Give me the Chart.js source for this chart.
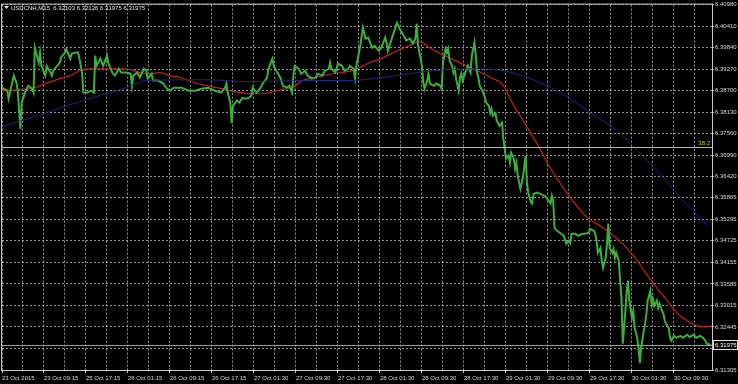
<!DOCTYPE html>
<html>
<head>
<meta charset="utf-8">
<script src="https://cdn.jsdelivr.net/npm/chart.js@4.4.1/dist/chart.umd.min.js"></script>
<style>
  html, body { margin: 0; padding: 0; background: #000; }
  #wrap { width: 738px; height: 384px; position: relative; }
</style>
</head>
<body>
<div id="wrap"><canvas id="priceChart"></canvas></div>
<script>
// chart header + axis labels
const symbolTitle = 'USDCNH,M15  6.32103 6.32126 6.31975 6.31975';
const timeLabels = ['23 Oct 2015', '23 Oct 09:15', '25 Oct 17:15', '26 Oct 01:15', '26 Oct 09:15',
    '26 Oct 17:15', '27 Oct 01:30', '27 Oct 09:30', '27 Oct 17:30', '28 Oct 01:30', '28 Oct 09:30',
    '28 Oct 17:30', '29 Oct 01:30', '29 Oct 09:30', '29 Oct 17:30', '30 Oct 01:30', '30 Oct 09:30'];
const priceTicks = [6.40980, 6.40410, 6.39840, 6.39270, 6.38700, 6.38130, 6.37560, 6.36990, 6.36420,
    6.35865, 6.35295, 6.34725, 6.34155, 6.33585, 6.33015, 6.32445, 6.31875, 6.31305];
const fibLevel = 6.37215;
const fibLabel = '38.2';
const lastPrice = 6.31975;

// M15 bars (bar number from left edge) and price
const barIdx = [0, 4, 5, 9, 11, 12, 14, 15, 18, 20, 23, 24, 25, 26, 28, 29, 30, 31, 33, 34, 37, 38, 39, 42, 44, 45, 48, 49,
    52, 53, 56, 58, 59, 61, 62, 65, 68, 70, 71, 72, 75, 77, 80, 81, 84, 86, 89, 91, 95, 98, 99, 100, 103, 105, 108, 110,
    111, 114, 115, 119, 123, 125, 128, 131, 137, 142, 147, 152, 157, 162, 167, 170, 171, 172, 174, 175, 176, 179, 181,
    183, 185, 188, 190, 191, 194, 197, 199, 202, 203, 206, 207, 209, 212, 214, 217, 219, 221, 222, 223, 226, 228, 231,
    233, 236, 239, 241, 244, 246, 249, 250, 251, 254, 256, 259, 261, 264, 265, 268, 269, 270, 273, 275, 277, 279, 282,
    284, 287, 289, 292, 293, 294, 297, 299, 301, 303, 306, 308, 311, 313, 315, 316, 317, 319, 320, 321, 322, 324, 325,
    326, 329, 331, 334, 335, 336, 338, 339, 340, 341, 343, 344, 345, 346, 348, 349, 350, 351, 353, 355, 357, 358, 360,
    361, 362, 363, 364, 366, 367, 368, 369, 371, 372, 373, 374, 376, 377, 378, 379, 381, 382, 383, 384, 386, 387, 388,
    390, 391, 392, 393, 395, 396, 397, 399, 400, 401, 403, 404, 405, 408, 410, 413, 415, 418, 419, 420, 421, 423, 425,
    428, 430, 432, 433, 434, 437, 439, 442, 444, 447, 448, 451, 452, 453, 454, 456, 457, 458, 460, 461, 462, 463, 465,
    466, 467, 468, 470, 471, 472, 473, 475, 476, 477, 478, 480, 481, 482, 484, 485, 486, 487, 489, 490, 491, 492, 494,
    495, 496, 497, 499, 500, 501, 503, 504, 505, 506, 508, 509, 510, 512, 514, 517, 519, 522, 524, 527, 529, 532, 534,
    536, 537, 540];
const barClose = [6.3878, 6.3870, 6.3849, 6.3910, 6.3891, 6.3870, 6.3769, 6.3838, 6.3870, 6.3883, 6.3875, 6.3865,
    6.3984, 6.3971, 6.3944, 6.3971, 6.3936, 6.3928, 6.3910, 6.3936, 6.3918, 6.3910, 6.3923, 6.3936, 6.3944, 6.3958,
    6.3971, 6.3981, 6.3955, 6.3968, 6.3971, 6.3971, 6.3955, 6.3918, 6.3865, 6.3865, 6.3870, 6.3865, 6.3963, 6.3936,
    6.3955, 6.3936, 6.3963, 6.3944, 6.3918, 6.3910, 6.3928, 6.3918, 6.3918, 6.3915, 6.3883, 6.3910, 6.3918, 6.3905,
    6.3928, 6.3923, 6.3902, 6.3915, 6.3897, 6.3897, 6.3889, 6.3878, 6.3870, 6.3878, 6.3878, 6.3870, 6.3870, 6.3875,
    6.3878, 6.3870, 6.3865, 6.3878, 6.3889, 6.3865, 6.3838, 6.3785, 6.3830, 6.3844, 6.3838, 6.3851, 6.3849, 6.3851,
    6.3857, 6.3878, 6.3865, 6.3878, 6.3891, 6.3905, 6.3928, 6.3955, 6.3936, 6.3923, 6.3905, 6.3883, 6.3878, 6.3883,
    6.3865, 6.3910, 6.3936, 6.3928, 6.3915, 6.3923, 6.3910, 6.3902, 6.3905, 6.3915, 6.3910, 6.3923, 6.3928, 6.3944,
    6.3928, 6.3918, 6.3942, 6.3936, 6.3923, 6.3928, 6.3936, 6.3928, 6.3902, 6.3936, 6.3989, 6.4037, 6.4008, 6.4011,
    6.3984, 6.3989, 6.3976, 6.3984, 6.4011, 6.3997, 6.3976, 6.4008, 6.4029, 6.4050, 6.4034, 6.4016, 6.4003, 6.4008,
    6.3995, 6.4008, 6.4048, 6.3989, 6.3955, 6.3936, 6.3891, 6.3875, 6.3897, 6.3915, 6.3889, 6.3883, 6.3889, 6.3883,
    6.3875, 6.3944, 6.3981, 6.3971, 6.3981, 6.3950, 6.3936, 6.3918, 6.3928, 6.3902, 6.3870, 6.3905, 6.3915, 6.3897,
    6.3918, 6.3936, 6.3918, 6.3963, 6.3998, 6.3963, 6.3918, 6.3905, 6.3883, 6.3870, 6.3862, 6.3851, 6.3838, 6.3830,
    6.3811, 6.3822, 6.3804, 6.3811, 6.3790, 6.3785, 6.3777, 6.3785, 6.3743, 6.3716, 6.3690, 6.3698, 6.3679, 6.3706,
    6.3690, 6.3663, 6.3679, 6.3645, 6.3610, 6.3626, 6.3642, 6.3698, 6.3626, 6.3600, 6.3574, 6.3571, 6.3597, 6.3600,
    6.3597, 6.3592, 6.3587, 6.3571, 6.3592, 6.3579, 6.3507, 6.3499, 6.3494, 6.3486, 6.3465, 6.3473, 6.3467, 6.3491,
    6.3491, 6.3486, 6.3491, 6.3491, 6.3494, 6.3504, 6.3499, 6.3491, 6.3473, 6.3441, 6.3454, 6.3420, 6.3401, 6.3428,
    6.3465, 6.3518, 6.3454, 6.3441, 6.3451, 6.3428, 6.3441, 6.3420, 6.3367, 6.3322, 6.3200, 6.3287, 6.3340, 6.3367,
    6.3314, 6.3269, 6.3287, 6.3242, 6.3216, 6.3189, 6.3149, 6.3189, 6.3234, 6.3253, 6.3279, 6.3314, 6.3340, 6.3305,
    6.3319, 6.3300, 6.3314, 6.3295, 6.3306, 6.3287, 6.3279, 6.3261, 6.3253, 6.3242, 6.3216, 6.3208, 6.3221, 6.3216,
    6.3221, 6.3216, 6.3224, 6.3218, 6.3224, 6.3216, 6.3221, 6.3216, 6.3208, 6.3200, 6.31975];

// moving averages
const maFastIdx = [0, 14, 21, 29, 37, 44, 52, 59, 67, 75, 82, 90, 98, 105, 113, 120, 128, 136, 147, 157, 168, 178, 191,
    198, 206, 213, 221, 229, 239, 248, 259, 269, 280, 290, 301, 311, 318, 326, 334, 341, 349, 357, 362, 367, 374, 381,
    385, 390, 395, 402, 410, 417, 424, 433, 446, 456, 466, 476, 484, 491, 499, 507, 514, 522, 530, 540];
const maFastVal = [6.3870, 6.3873, 6.3875, 6.3883, 6.3894, 6.3902, 6.3910, 6.3923, 6.3928, 6.3928, 6.3928, 6.3928,
    6.3926, 6.3918, 6.3915, 6.3918, 6.3910, 6.3905, 6.3891, 6.3883, 6.3875, 6.3867, 6.3862, 6.3862, 6.3867, 6.3873,
    6.3878, 6.3897, 6.3905, 6.3913, 6.3918, 6.3926, 6.3944, 6.3957, 6.3976, 6.3990, 6.4000, 6.3984, 6.3968, 6.3957,
    6.3944, 6.3931, 6.3923, 6.3915, 6.3902, 6.3889, 6.3865, 6.3830, 6.3803, 6.3763, 6.3715, 6.3670, 6.3632, 6.3587,
    6.3534, 6.3512, 6.3486, 6.3454, 6.3420, 6.3385, 6.3348, 6.3314, 6.3282, 6.3261, 6.3247, 6.3245];
const maSlowIdx = [0, 29, 59, 82, 95, 110, 156, 189, 227, 265, 290, 316, 341, 362, 382, 400, 418, 433, 448, 469, 484,
    499, 514, 528, 538];
const maSlowVal = [6.3775, 6.3806, 6.3841, 6.3865, 6.3878, 6.3897, 6.3899, 6.3894, 6.3897, 6.3897, 6.3905, 6.3918,
    6.3926, 6.3928, 6.3923, 6.3905, 6.3878, 6.3849, 6.3812, 6.3764, 6.3712, 6.3659, 6.3598, 6.3547, 6.3512];

const axisFont = { family: '"Liberation Sans", Arial, sans-serif', size: 6 };
const gridColor = 'rgba(200,200,200,0.75)';
const fibColor = '#d9c70f';

function toPoints(xs, ys) {
    return xs.map((x, i) => ({ x: x, y: ys[i] }));
}

// background, fib line, last price line, frame and header
const mt4Overlay = {
    id: 'mt4Overlay',
    beforeDraw(chart) {
        const ctx = chart.ctx;
        ctx.save();
        ctx.fillStyle = '#000';
        ctx.fillRect(0, 0, chart.width, chart.height);
        ctx.restore();
    },
    afterDatasetsDraw(chart) {
        const { ctx, chartArea: a, scales: { y } } = chart;
        ctx.save();
        // fibo 38.2
        let fy = Math.round(y.getPixelForValue(fibLevel)) + 0.5;
        ctx.strokeStyle = fibColor;
        ctx.lineWidth = 1;
        ctx.beginPath();
        ctx.moveTo(a.left, fy);
        ctx.lineTo(a.right, fy);
        ctx.stroke();
        ctx.fillStyle = fibColor;
        ctx.font = '6px ' + axisFont.family;
        ctx.textAlign = 'right';
        ctx.textBaseline = 'bottom';
        ctx.fillText(fibLabel, a.right - 2, fy - 1);
        // last price line
        let py = Math.round(y.getPixelForValue(lastPrice)) + 0.5;
        ctx.strokeStyle = '#9a9a9a';
        ctx.beginPath();
        ctx.moveTo(a.left, py);
        ctx.lineTo(a.right, py);
        ctx.stroke();
        ctx.restore();
    },
    afterDraw(chart) {
        const { ctx, chartArea: a, scales: { y } } = chart;
        ctx.save();
        ctx.strokeStyle = '#c8c8c8';
        ctx.lineWidth = 1;
        ctx.strokeRect(a.left - 0.5, a.top - 0.5, a.right - a.left + 1, a.bottom - a.top + 1);

        // header
        ctx.fillStyle = '#e8e8e8';
        ctx.beginPath();
        ctx.moveTo(4, 6);
        ctx.lineTo(9, 6);
        ctx.lineTo(6.5, 9);
        ctx.closePath();
        ctx.fill();
        ctx.font = '6px ' + axisFont.family;
        ctx.textAlign = 'left';
        ctx.textBaseline = 'middle';
        ctx.fillText(symbolTitle, 11, 8);

        // price box on axis
        let py = Math.round(y.getPixelForValue(lastPrice));
        ctx.fillStyle = '#000';
        ctx.fillRect(a.right + 1, py - 5, 26, 10);
        ctx.strokeStyle = '#e0e0e0';
        ctx.strokeRect(a.right + 1.5, py - 4.5, 24, 9);
        ctx.fillStyle = '#ffffff';
        ctx.fillText(lastPrice.toFixed(5), a.right + 3, py + 0.5);
        ctx.restore();
    }
};

const canvas = document.getElementById('priceChart').getContext('2d');
const priceChart = new Chart(canvas, {
    type: 'line',
    data: {
        datasets: [
            {
                label: 'MA slow',
                data: toPoints(maSlowIdx, maSlowVal),
                borderColor: '#25257c',
                borderWidth: 1,
                pointRadius: 0,
                cubicInterpolationMode: 'monotone'
            },
            {
                label: 'USDCNH',
                data: toPoints(barIdx, barClose),
                borderColor: '#3dae3d',
                borderWidth: 2,
                pointRadius: 0,
                tension: 0
            },
            {
                label: 'MA fast',
                data: toPoints(maFastIdx, maFastVal),
                borderColor: '#c41e1e',
                borderWidth: 1.2,
                pointRadius: 0,
                cubicInterpolationMode: 'monotone'
            }
        ]
    },
    options: {
        responsive: true,
        maintainAspectRatio: false,
        animation: false,
        layout: { padding: { left: 2, top: 4, right: 0, bottom: 0 } },
        plugins: {
            legend: { display: false },
            tooltip: { enabled: false }
        },
        scales: {
            x: {
                type: 'linear',
                min: 0,
                max: 541,
                afterBuildTicks: (axis) => {
                    let t = [];
                    for (let v = 0; v <= 528; v += 16) t.push({ value: v });
                    axis.ticks = t;
                },
                afterFit: (s) => { s.height = 14; },
                ticks: {
                    callback: (v) => (v % 32 === 0 ? timeLabels[v / 32] : ''),
                    autoSkip: false,
                    maxRotation: 0,
                    minRotation: 0,
                    align: 'start',
                    color: '#d8d8d8',
                    font: axisFont,
                    padding: 2
                },
                grid: {
                    color: gridColor,
                    lineWidth: 1,
                    drawTicks: true,
                    tickLength: 3,
                    tickColor: (ctx) => (ctx.tick && ctx.tick.value % 32 === 0 ? '#c8c8c8' : 'rgba(0,0,0,0)')
                },
                border: { display: false, dash: [2, 2] }
            },
            y: {
                type: 'linear',
                position: 'right',
                min: 6.31305,
                max: 6.40980,
                afterBuildTicks: (axis) => {
                    axis.ticks = priceTicks.map(v => ({ value: v }));
                },
                afterFit: (s) => { s.width = 26; },
                ticks: {
                    callback: (v) => v.toFixed(5),
                    autoSkip: false,
                    color: '#d8d8d8',
                    font: axisFont,
                    padding: 1
                },
                grid: {
                    color: gridColor,
                    lineWidth: 1,
                    drawTicks: true,
                    tickLength: 2,
                    tickColor: '#c8c8c8'
                },
                border: { display: false, dash: [2, 2] }
            }
        }
    },
    plugins: [mt4Overlay]
});
</script>
</body>
</html>
